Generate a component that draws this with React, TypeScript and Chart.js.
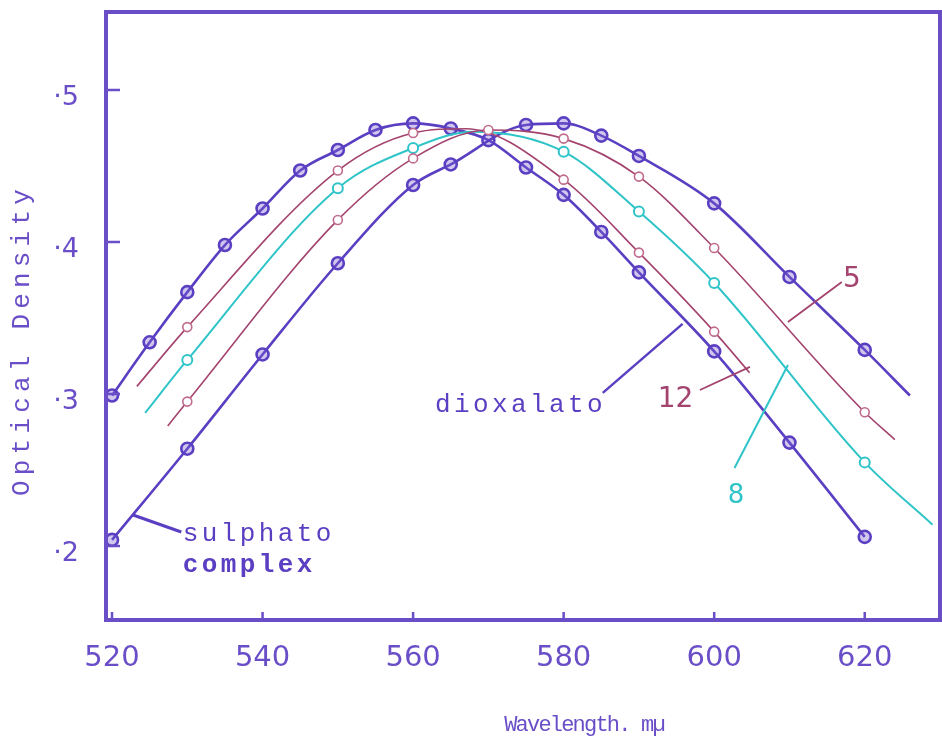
import { useEffect, useRef } from "react";
import { Chart, registerables } from "chart.js";

Chart.register(...registerables);

// Axis ticks
const xTicks = [520, 540, 560, 580, 600, 620];
const yTicks = [0.2, 0.3, 0.4, 0.5];

// Absorption spectra (wavelength in mµ, optical density); mark = 1 where a reading is plotted
const dioxalatoWl = [520, 525, 530, 535, 540, 545, 550, 555, 560, 565, 570, 575, 580, 585, 590, 600, 610, 620];
const dioxalatoOD = [0.299, 0.334, 0.367, 0.398, 0.422, 0.447, 0.4605, 0.4737, 0.478, 0.4747, 0.467, 0.449, 0.431, 0.4066, 0.38, 0.328, 0.268, 0.206];
const dioxalatoMark = [1, 1, 1, 1, 1, 1, 1, 1, 1, 1, 1, 1, 1, 1, 1, 1, 1, 1];

const twelveWl = [523.3, 530, 550, 560, 567, 580, 590, 600, 604.7];
const twelveOD = [0.305, 0.344, 0.447, 0.4717, 0.4745, 0.441, 0.393, 0.341, 0.314];
const twelveMark = [0, 1, 1, 1, 0, 1, 1, 1, 0];

const eightWl = [524.4, 530, 550, 560, 568, 580, 590, 600, 620, 629];
const eightOD = [0.2875, 0.3224, 0.4353, 0.4618, 0.4725, 0.4594, 0.42, 0.373, 0.255, 0.214];
const eightMark = [0, 1, 1, 1, 0, 1, 1, 1, 1, 0];

const fiveWl = [527.4, 530, 550, 560, 570, 580, 590, 600, 620, 624];
const fiveOD = [0.279, 0.295, 0.4145, 0.455, 0.4737, 0.468, 0.443, 0.396, 0.288, 0.27];
const fiveMark = [0, 1, 1, 1, 1, 1, 1, 1, 1, 0];

const sulphatoWl = [520, 530, 540, 550, 560, 565, 575, 580, 585, 590, 600, 610, 620, 626];
const sulphatoOD = [0.204, 0.264, 0.326, 0.386, 0.4375, 0.451, 0.477, 0.478, 0.47, 0.4566, 0.4254, 0.377, 0.329, 0.299];
const sulphatoMark = [1, 1, 1, 1, 1, 1, 1, 1, 1, 1, 1, 1, 1, 0];

const AXIS = "#6a4ec8";
const PURPLE = "#5b3fc2";
const RED = "#a3436e";
const RED_MARK = "#c06a8c";
const CYAN = "#2fc4c8";

const TYPE_FONT = "'Liberation Mono', 'DejaVu Sans Mono', monospace";
const DIGIT_FONT = "'DejaVu Sans', sans-serif";

function series(
  wl: number[],
  od: number[],
  mark: number[],
  color: string,
  markColor: string,
  width: number,
  radius: number,
  markWidth: number,
  fill: string
) {
  return {
    data: wl.map((w, i) => ({ x: w, y: od[i] })),
    borderColor: color,
    borderWidth: width,
    pointRadius: mark.map((m) => (m ? radius : 0)),
    pointBorderColor: markColor,
    pointBackgroundColor: fill,
    pointBorderWidth: markWidth,
    cubicInterpolationMode: "monotone" as const,
    fill: false,
  };
}

// Frame, inward tick marks, curve labels with their leader lines and axis titles
const decorations = {
  id: "decorations",
  afterDatasetsDraw(chart: any) {
    const { ctx, chartArea: a, scales } = chart;
    const px = (w: number) => scales.x.getPixelForValue(w);
    const py = (v: number) => scales.y.getPixelForValue(v);
    ctx.save();

    ctx.strokeStyle = AXIS;
    ctx.lineWidth = 4;
    ctx.strokeRect(a.left, a.top, a.right - a.left, a.bottom - a.top);

    ctx.lineWidth = 2.5;
    ctx.beginPath();
    for (const t of xTicks) {
      ctx.moveTo(px(t), a.bottom);
      ctx.lineTo(px(t), a.bottom - 8);
    }
    for (const t of yTicks) {
      ctx.moveTo(a.left, py(t));
      ctx.lineTo(a.left + 14, py(t));
    }
    ctx.stroke();

    const line = (w1: number, v1: number, w2: number, v2: number, color: string, lw: number) => {
      ctx.strokeStyle = color;
      ctx.lineWidth = lw;
      ctx.beginPath();
      ctx.moveTo(px(w1), py(v1));
      ctx.lineTo(px(w2), py(v2));
      ctx.stroke();
    };
    line(522.8, 0.2204, 529.2, 0.2092, PURPLE, 3);
    line(585.2, 0.3007, 595.8, 0.3461, PURPLE, 2.5);
    line(598.1, 0.3026, 604.75, 0.3178, RED, 1.8);
    line(616.95, 0.3737, 609.8, 0.3474, RED, 1.8);
    line(602.7, 0.2513, 609.8, 0.3191, CYAN, 2);

    const text = (s: string, w: number, v: number, color: string, font: string, spacing: string) => {
      ctx.fillStyle = color;
      ctx.font = font;
      (ctx as any).letterSpacing = spacing;
      ctx.textAlign = "left";
      ctx.textBaseline = "alphabetic";
      ctx.fillText(s, px(w), py(v));
    };
    const typeFont = `26px ${TYPE_FONT}`;
    text("sulphato", 529.4, 0.2033, PURPLE, typeFont, "3.4px");
    text("complex", 529.4, 0.1829, PURPLE, `bold ${typeFont}`, "3.4px");
    text("dioxalato", 562.9, 0.2882, PURPLE, typeFont, "3.4px");
    text("12", 592.5, 0.2914, RED, `28px ${DIGIT_FONT}`, "0px");
    text("5", 617.1, 0.3704, RED, `28px ${DIGIT_FONT}`, "0px");
    text("8", 601.8, 0.2283, CYAN, `26px ${DIGIT_FONT}`, "0px");

    // axis titles
    ctx.fillStyle = AXIS;
    ctx.textAlign = "center";
    ctx.textBaseline = "alphabetic";
    ctx.font = `22px ${TYPE_FONT}`;
    (ctx as any).letterSpacing = "-1.8px";
    ctx.fillText("Wavelength. mµ", 584, 731);

    ctx.translate(29, 340);
    ctx.rotate(-Math.PI / 2);
    ctx.font = `26px ${TYPE_FONT}`;
    (ctx as any).letterSpacing = "5.2px";
    ctx.fillText("Optical Density", 0, 0);

    ctx.restore();
  },
};

export default function App() {
  const canvasRef = useRef<HTMLCanvasElement | null>(null);

  useEffect(() => {
    const canvas = canvasRef.current;
    if (!canvas) return;
    const chart = new Chart(canvas, {
      type: "line",
      data: {
        datasets: [
          series(fiveWl, fiveOD, fiveMark, RED, RED_MARK, 1.6, 4.5, 1.6, "#ffffff"),
          series(twelveWl, twelveOD, twelveMark, RED, RED_MARK, 1.6, 4.5, 1.6, "#ffffff"),
          series(eightWl, eightOD, eightMark, CYAN, CYAN, 2, 5, 2, "#ffffff"),
          series(sulphatoWl, sulphatoOD, sulphatoMark, PURPLE, PURPLE, 2.6, 6, 2.6, "rgba(120,95,210,0.35)"),
          series(dioxalatoWl, dioxalatoOD, dioxalatoMark, PURPLE, PURPLE, 2.6, 6, 2.6, "rgba(120,95,210,0.35)"),
        ],
      },
      options: {
        responsive: false,
        animation: false,
        layout: { autoPadding: false, padding: { top: 12, right: 2, left: 0, bottom: 0 } },
        plugins: { legend: { display: false }, tooltip: { enabled: false } },
        scales: {
          x: {
            type: "linear",
            min: 519.2,
            max: 630,
            afterBuildTicks: (s: any) => {
              s.ticks = xTicks.map((v) => ({ value: v }));
            },
            afterFit: (s: any) => {
              s.height = 124;
              s.paddingLeft = 0;
              s.paddingRight = 0;
            },
            grid: { display: false, drawTicks: false },
            border: { display: false },
            ticks: {
              autoSkip: false,
              maxRotation: 0,
              padding: 21,
              color: AXIS,
              font: { family: DIGIT_FONT, size: 29 },
              callback: (v: any) => String(v),
            },
          },
          y: {
            type: "linear",
            min: 0.1513,
            max: 0.5513,
            afterBuildTicks: (s: any) => {
              s.ticks = yTicks.map((v) => ({ value: v }));
            },
            afterFit: (s: any) => {
              s.width = 106;
              s.paddingTop = 0;
              s.paddingBottom = 0;
            },
            grid: { display: false, drawTicks: false },
            border: { display: false },
            ticks: {
              autoSkip: false,
              padding: 27,
              labelOffset: 8,
              color: AXIS,
              font: { family: DIGIT_FONT, size: 27 },
              callback: (v: any) => "·" + Math.round(Number(v) * 10),
            },
          },
        },
      },
      plugins: [decorations],
    });
    return () => chart.destroy();
  }, []);

  return (
    <div style={{ position: "absolute", left: 0, top: 0, width: 942, height: 744, background: "#ffffff" }}>
      <canvas ref={canvasRef} width={942} height={744} style={{ display: "block" }} />
    </div>
  );
}
